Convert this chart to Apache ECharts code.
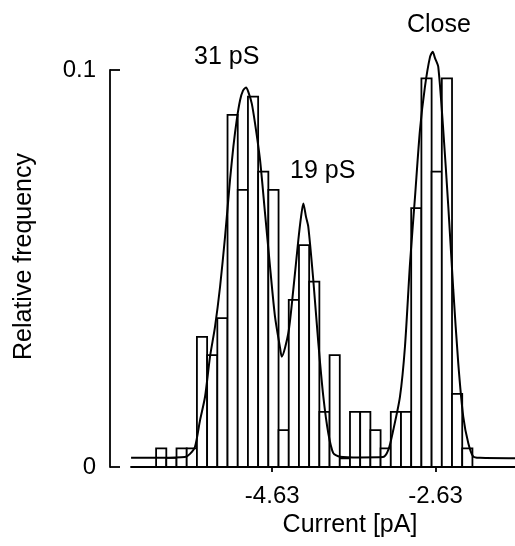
<!DOCTYPE html>
<html>
<head>
<meta charset="utf-8">
<script src="https://cdn.jsdelivr.net/npm/echarts@6/dist/echarts.min.js"></script>
<style>
html,body{margin:0;padding:0;background:#fff;}
#chart{width:515px;height:546px;}
</style>
</head>
<body>
<div id="chart"></div>
<script>
// Histogram bin centres (pA)
const binCenters = [-5.990, -5.865, -5.740, -5.615, -5.490, -5.365, -5.240, -5.115, -4.990, -4.865,
  -4.740, -4.615, -4.490, -4.365, -4.240, -4.115, -3.990, -3.865, -3.740, -3.615,
  -3.490, -3.365, -3.240, -3.115, -2.990, -2.865, -2.740, -2.615, -2.490, -2.365, -2.240];
// Relative frequency of each bin
const binFreq = [0.0047, 0.0023, 0.0047, 0.0047, 0.0328, 0.0282, 0.0375, 0.0887, 0.0698, 0.0933,
  0.0744, 0.0698, 0.0093, 0.0421, 0.0559, 0.0467, 0.0139, 0.0282, 0.0022, 0.0139,
  0.0139, 0.0093, 0.0047, 0.0139, 0.0139, 0.0652, 0.0979, 0.0744, 0.0979, 0.0184, 0.0047];
// Fitted curve
const fitX = [-6.359, -6.004, -5.698, -5.637, -5.576, -5.514, -5.453, -5.392, -5.331, -5.269,
  -5.208, -5.147, -5.106, -5.065, -5.024, -4.988, -4.951, -4.923, -4.881, -4.841,
  -4.779, -4.718, -4.657, -4.596, -4.534, -4.514, -4.433, -4.372, -4.310, -4.277,
  -4.249, -4.216, -4.188, -4.127, -4.065, -4.004, -3.943, -3.882, -3.800, -3.555,
  -3.273, -3.208, -3.147, -3.065, -3.004, -2.942, -2.881, -2.820, -2.759, -2.697,
  -2.664, -2.636, -2.596, -2.535, -2.473, -2.412, -2.351, -2.290, -2.228, -2.167,
  -2.085, -1.656];
const fitY = [0.0023, 0.0023, 0.0025, 0.0033, 0.0051, 0.0118, 0.0177, 0.0278, 0.0353, 0.0454,
  0.0580, 0.0723, 0.0807, 0.0874, 0.0924, 0.0948, 0.0956, 0.0945, 0.0916, 0.0866,
  0.0773, 0.0639, 0.0505, 0.0379, 0.0300, 0.0278, 0.0337, 0.0446, 0.0572, 0.0630,
  0.0664, 0.0630, 0.0605, 0.0471, 0.0312, 0.0177, 0.0085, 0.0035, 0.0026, 0.0024,
  0.0025, 0.0043, 0.0093, 0.0177, 0.0303, 0.0513, 0.0680, 0.0849, 0.0958, 0.1033,
  0.1046, 0.1030, 0.1008, 0.0849, 0.0656, 0.0446, 0.0261, 0.0127, 0.0060, 0.0026,
  0.0023, 0.0022];
const xTickValues = [-4.63, -2.63];
const yTickValues = [0, 0.1];
const peakLabels = ['31 pS', '19 pS', 'Close'];

const binWidth = 0.125;
const FONT = '"Liberation Sans", Arial, Helvetica, sans-serif';
const INK = '#000';

const chart = echarts.init(document.getElementById('chart'), null, {renderer: 'canvas'});

const barData = binCenters.map((c, i) => [c, binFreq[i]]);
const fitData = fitX.map((x, i) => [x, fitY[i]]);

chart.setOption({
  animation: false,
  backgroundColor: '#fff',
  grid: {left: 131, right: 0, top: 70, bottom: 79, containLabel: false},
  xAxis: {
    type: 'value',
    min: -6.36,
    max: -1.656,
    name: 'Current [pA]',
    nameLocation: 'middle',
    nameGap: 37,
    nameTextStyle: {fontFamily: FONT, fontSize: 25, color: INK, padding: [0, 0, 0, 54]},
    axisLine: {show: true, onZero: false, lineStyle: {color: INK, width: 1.8}},
    axisTick: {show: true, length: 5, customValues: xTickValues, lineStyle: {color: INK, width: 1.8}},
    axisLabel: {show: true, customValues: xTickValues, margin: 17, fontFamily: FONT, fontSize: 24, color: INK,
      formatter: v => v.toFixed(2)},
    splitLine: {show: false}
  },
  yAxis: {
    type: 'value',
    min: 0,
    max: 0.1,
    interval: 0.1,
    offset: 21,
    name: 'Relative frequency',
    nameLocation: 'middle',
    nameGap: 73,
    nameRotate: 90,
    nameTextStyle: {fontFamily: FONT, fontSize: 25, color: INK, padding: [0, 0, 0, 24]},
    axisLine: {show: true, lineStyle: {color: INK, width: 1.8}},
    axisTick: {show: true, inside: true, length: 10, lineStyle: {color: INK, width: 1.8}},
    axisLabel: {show: true, margin: 14, fontFamily: FONT, fontSize: 24, color: INK,
      formatter: v => (v === 0 ? '0' : String(v))},
    splitLine: {show: false}
  },
  series: [
    {
      type: 'custom',
      name: 'Histogram',
      clip: false,
      data: barData,
      encode: {x: 0, y: 1},
      renderItem: function (params, api) {
        const c = api.value(0), f = api.value(1);
        const p0 = api.coord([c - binWidth / 2, f]);
        const p1 = api.coord([c + binWidth / 2, 0]);
        return {
          type: 'rect',
          shape: {x: p0[0], y: p0[1], width: p1[0] - p0[0], height: p1[1] - p0[1]},
          style: {fill: '#fff', stroke: INK, lineWidth: 1.8}
        };
      },
      z: 2
    },
    {
      type: 'line',
      name: 'Fit',
      data: fitData,
      clip: false,
      smooth: 0.25,
      symbol: 'none',
      lineStyle: {color: INK, width: 2},
      z: 3
    }
  ],
  graphic: [
    {type: 'text', left: 194, top: 45, style: {text: peakLabels[0], font: '25px ' + FONT, fill: INK}},
    {type: 'text', left: 290, top: 159, style: {text: peakLabels[1], font: '25px ' + FONT, fill: INK}},
    {type: 'text', left: 407, top: 13, style: {text: peakLabels[2], font: '25px ' + FONT, fill: INK}}
  ]
});
</script>
</body>
</html>
